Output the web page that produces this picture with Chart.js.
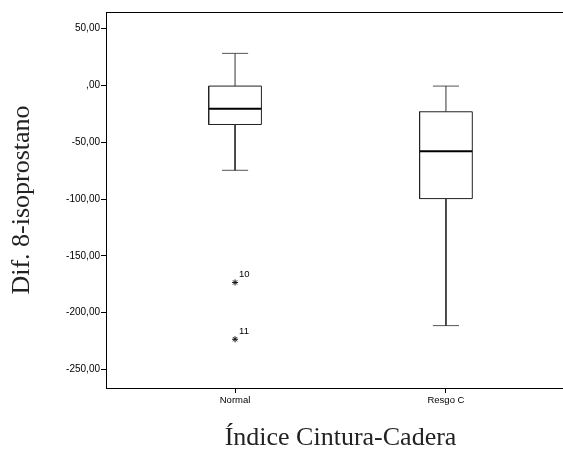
<!DOCTYPE html>
<html>
<head>
<meta charset="utf-8">
<script src="https://cdn.jsdelivr.net/npm/chart.js@4.4.1/dist/chart.umd.min.js"></script>
<style>
  html, body { margin: 0; padding: 0; background: #fff; overflow: hidden; }
  #wrap { width: 590px; height: 451px; }
</style>
</head>
<body>
<div id="wrap"><canvas id="chart"></canvas></div>
<script>
// values
var groups = ['Normal', 'Resgo C'];
var groupPos = [1, 2];
var whiskerLow = [-74.7, -211.4];
var q1 = [-34.4, -99.6];
var median = [-20.6, -57.9];
var q3 = [-0.6, -23.2];
var whiskerHigh = [28.2, -0.6];
var outlierGroup = [1, 1];
var outlierValues = [-173.4, -223.4];
var outlierIds = ['10', '11'];
var yTicks = [50, 0, -50, -100, -150, -200, -250];

var boxHalf = 0.125;   // box half-width in x units
var capHalf = 0.062;   // whisker cap half-width

function segment(points, width, color) {
    return {
        type: 'scatter',
        data: points,
        showLine: true,
        borderColor: color || '#000',
        borderWidth: width || 1,
        pointRadius: 0,
        pointHoverRadius: 0,
        fill: false,
        tension: 0
    };
}

var datasets = [];
groupPos.forEach(function(x, i) {
    // whiskers
    datasets.push(segment([{x: x, y: q3[i]}, {x: x, y: whiskerHigh[i]}], 1, '#333'));
    datasets.push(segment([{x: x - capHalf, y: whiskerHigh[i]}, {x: x + capHalf, y: whiskerHigh[i]}], 1, '#555'));
    datasets.push(segment([{x: x, y: q1[i]}, {x: x, y: whiskerLow[i]}], 1, '#333'));
    datasets.push(segment([{x: x - capHalf, y: whiskerLow[i]}, {x: x + capHalf, y: whiskerLow[i]}], 1, '#555'));
    // box
    datasets.push(segment([
        {x: x - boxHalf, y: q1[i]}, {x: x + boxHalf, y: q1[i]},
        {x: x + boxHalf, y: q3[i]}, {x: x - boxHalf, y: q3[i]},
        {x: x - boxHalf, y: q1[i]}
    ], 1, '#222'));
    // median
    datasets.push(segment([{x: x - boxHalf, y: median[i]}, {x: x + boxHalf, y: median[i]}], 2, '#000'));
});

datasets.push({
    type: 'scatter',
    label: 'outliers',
    data: outlierValues.map(function(v, i) { return {x: outlierGroup[i], y: v}; }),
    pointStyle: 'star',
    pointRadius: 3,
    borderColor: '#111',
    backgroundColor: '#111',
    borderWidth: 1
});

var outlierLabels = {
    id: 'outlierLabels',
    afterDatasetsDraw: function(chart) {
        var meta = chart.getDatasetMeta(chart.data.datasets.length - 1);
        var ctx = chart.ctx;
        ctx.save();
        ctx.font = '9.5px "Liberation Sans", Arial, sans-serif';
        ctx.fillStyle = '#000';
        ctx.textBaseline = 'middle';
        ctx.textAlign = 'left';
        meta.data.forEach(function(pt, i) {
            ctx.fillText(outlierIds[i], pt.x + 4, pt.y - 8);
        });
        ctx.restore();
    }
};

var ctx = document.getElementById('chart').getContext('2d');
new Chart(ctx, {
    type: 'scatter',
    data: {datasets: datasets},
    plugins: [outlierLabels],
    options: {
        responsive: true,
        maintainAspectRatio: false,
        animation: false,
        events: [],
        layout: {padding: {left: 0, top: 12, right: 15, bottom: 0}},
        plugins: {legend: {display: false}, tooltip: {enabled: false}},
        scales: {
            x: {
                type: 'linear',
                position: 'bottom',
                min: 0.388,
                max: 2.612,
                afterBuildTicks: function(scale) {
                    scale.ticks = groupPos.map(function(v) { return {value: v}; });
                },
                afterFit: function(scale) { scale.height = 63; },
                ticks: {
                    autoSkip: false,
                    maxRotation: 0,
                    padding: 2,
                    color: '#000',
                    font: {family: '"Liberation Sans", Arial, sans-serif', size: 9.5},
                    callback: function(value, index) { return groups[index]; }
                },
                grid: {drawOnChartArea: false, drawTicks: true, tickLength: 5, color: '#000'},
                border: {display: true, color: '#000', width: 1},
                title: {
                    display: true,
                    text: 'Índice Cintura-Cadera',
                    color: '#222',
                    font: {family: '"Liberation Serif", "Times New Roman", serif', size: 26, lineHeight: 1},
                    padding: {top: 0, bottom: 0}
                }
            },
            x2: {
                type: 'linear',
                position: 'top',
                min: 0.388,
                max: 2.612,
                afterFit: function(scale) { scale.height = 0; },
                ticks: {display: false},
                grid: {display: false, drawTicks: false, tickLength: 0},
                border: {display: true, color: '#000', width: 1}
            },
            y: {
                type: 'linear',
                min: -266.3,
                max: 64.6,
                afterBuildTicks: function(scale) {
                    scale.ticks = yTicks.map(function(v) { return {value: v}; });
                },
                afterFit: function(scale) { scale.width = 106; },
                ticks: {
                    padding: 1,
                    color: '#000',
                    font: {family: '"Liberation Sans", Arial, sans-serif', size: 10},
                    callback: function(v) {
                        return v === 0 ? ',00' : v.toFixed(2).replace('.', ',');
                    }
                },
                grid: {drawOnChartArea: false, drawTicks: true, tickLength: 5, color: '#000'},
                border: {display: true, color: '#000', width: 1},
                title: {
                    display: true,
                    text: 'Dif. 8-isoprostano',
                    color: '#222',
                    font: {family: '"Liberation Serif", "Times New Roman", serif', size: 26, lineHeight: 1},
                    padding: {top: 9, bottom: 0}
                }
            }
        }
    }
});
</script>
</body>
</html>
